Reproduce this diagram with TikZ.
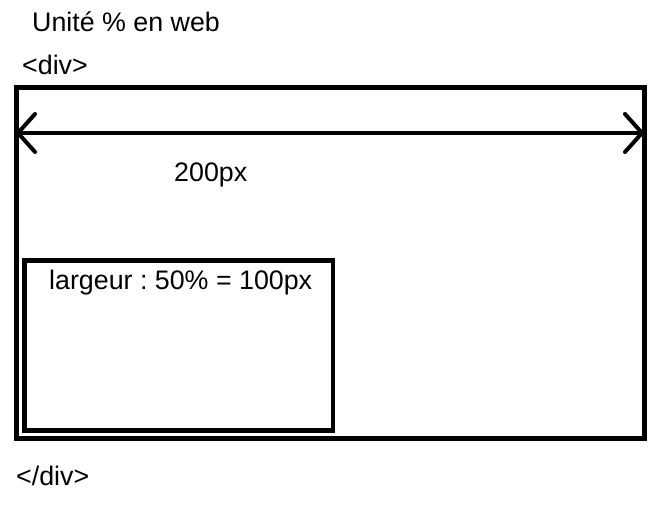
\documentclass[tikz,border=0pt]{standalone}
\usepackage{fontspec}
\setmainfont{Liberation Sans}
\usetikzlibrary{arrows.meta}
\frenchspacing
\begin{document}
\begin{tikzpicture}[x=1pt,y=-1pt,
  box/.style={draw=black,line width=5pt},
  innerbox/.style={draw=black,line width=4.5pt},
  lbl/.style={anchor=base west,inner sep=0pt,font=\fontsize{26.8}{32}\selectfont},
  dim/.style={line width=4pt,{Straight Barb[round,length=17pt,width=38pt]}-{Straight Barb[round,length=17pt,width=38pt]}}]
  \useasboundingbox (0,0) rectangle (668,524);
  % outer div and inner child box
  \draw[box] (16,88) rectangle (644,438.5);
  \draw[innerbox] (24.5,260.5) rectangle (333,430.5);
  % width dimension across the outer div
  \coordinate (L) at (16,133);
  \coordinate (R) at (644,133);
  \draw[dim] (L) -- (R);
  % labels
  \node[lbl] (title) at (32,32) {Unité \% en web};
  \node[lbl] (open) at (22,75) {<div>};
  \node[lbl] (w) at (174,181) {200px};
  \node[lbl] (half) at (49,289) {largeur : 50\% = 100px};
  \node[lbl] (close) at (16,485) {</div>};
\end{tikzpicture}
\end{document}
